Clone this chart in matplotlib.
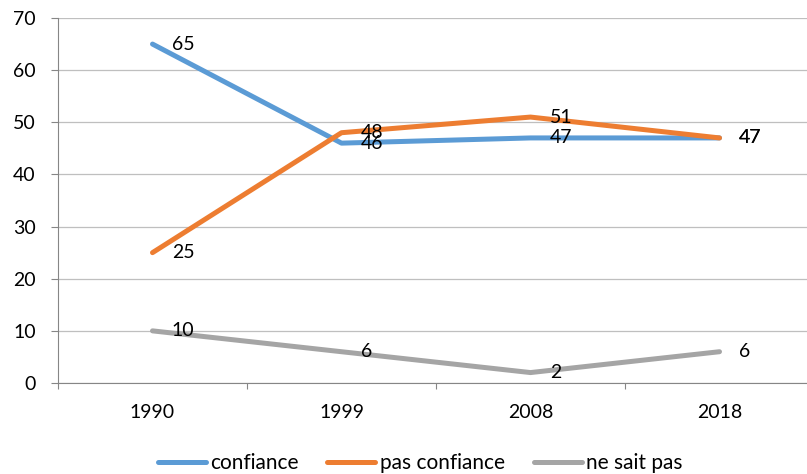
import matplotlib
matplotlib.use("Agg")
from matplotlib import pyplot as plt
import numpy as np

plt.rcParams['font.family'] = ['Lato', 'DejaVu Sans']

years = ["1990", "1999", "2008", "2018"]
confiance = [65, 46, 47, 47]
pas_confiance = [25, 48, 51, 47]
ne_sait_pas = [10, 6, 2, 6]

series = [
    ("confiance", confiance, "#5B9BD5"),
    ("pas confiance", pas_confiance, "#ED7D31"),
    ("ne sait pas", ne_sait_pas, "#A5A5A5"),
]

fig = plt.figure(figsize=(8.07, 4.74), dpi=100)
# plot area runs slightly past the right edge, as in the cropped original
ax = fig.add_axes([58/807, 1-383/474, 756/807, 365/474])

x = np.arange(len(years))
for name, vals, col in series:
    ax.plot(x, vals, color=col, lw=3.6, solid_capstyle="round",
            solid_joinstyle="round", label=name)
    for xi, v in zip(x, vals):
        ax.annotate(str(v), (xi, v), xytext=(14, 0), textcoords="offset points",
                    ha="left", va="center", fontsize=14, color="black")

ax.set_xlim(-0.5, len(years) - 0.5)
ax.set_ylim(0, 70)
ax.set_yticks(range(0, 71, 10))
ax.set_xticks(x)
ax.set_xticklabels(years)
ax.set_xticks(np.arange(-0.5, len(years), 1), minor=True)
ax.tick_params(axis="x", which="major", length=0, pad=15, labelsize=14)
ax.tick_params(axis="x", which="minor", length=4.5, color="#868686", width=0.8)
ax.tick_params(axis="y", length=5, color="#868686", width=0.8, pad=11, labelsize=14)

ax.grid(axis="y", color="#BFBFBF", lw=0.9)
ax.set_axisbelow(True)
for s in ["top", "right"]:
    ax.spines[s].set_visible(False)
for s in ["left", "bottom"]:
    ax.spines[s].set_color("#868686")
    ax.spines[s].set_linewidth(0.8)

fig.legend(loc="center", bbox_to_anchor=(420/807, 1-463/474), ncol=3, frameon=False,
           fontsize=15, handlelength=2.3, handletextpad=0.2, columnspacing=1.4)

fig.savefig("out.png", dpi=100)
